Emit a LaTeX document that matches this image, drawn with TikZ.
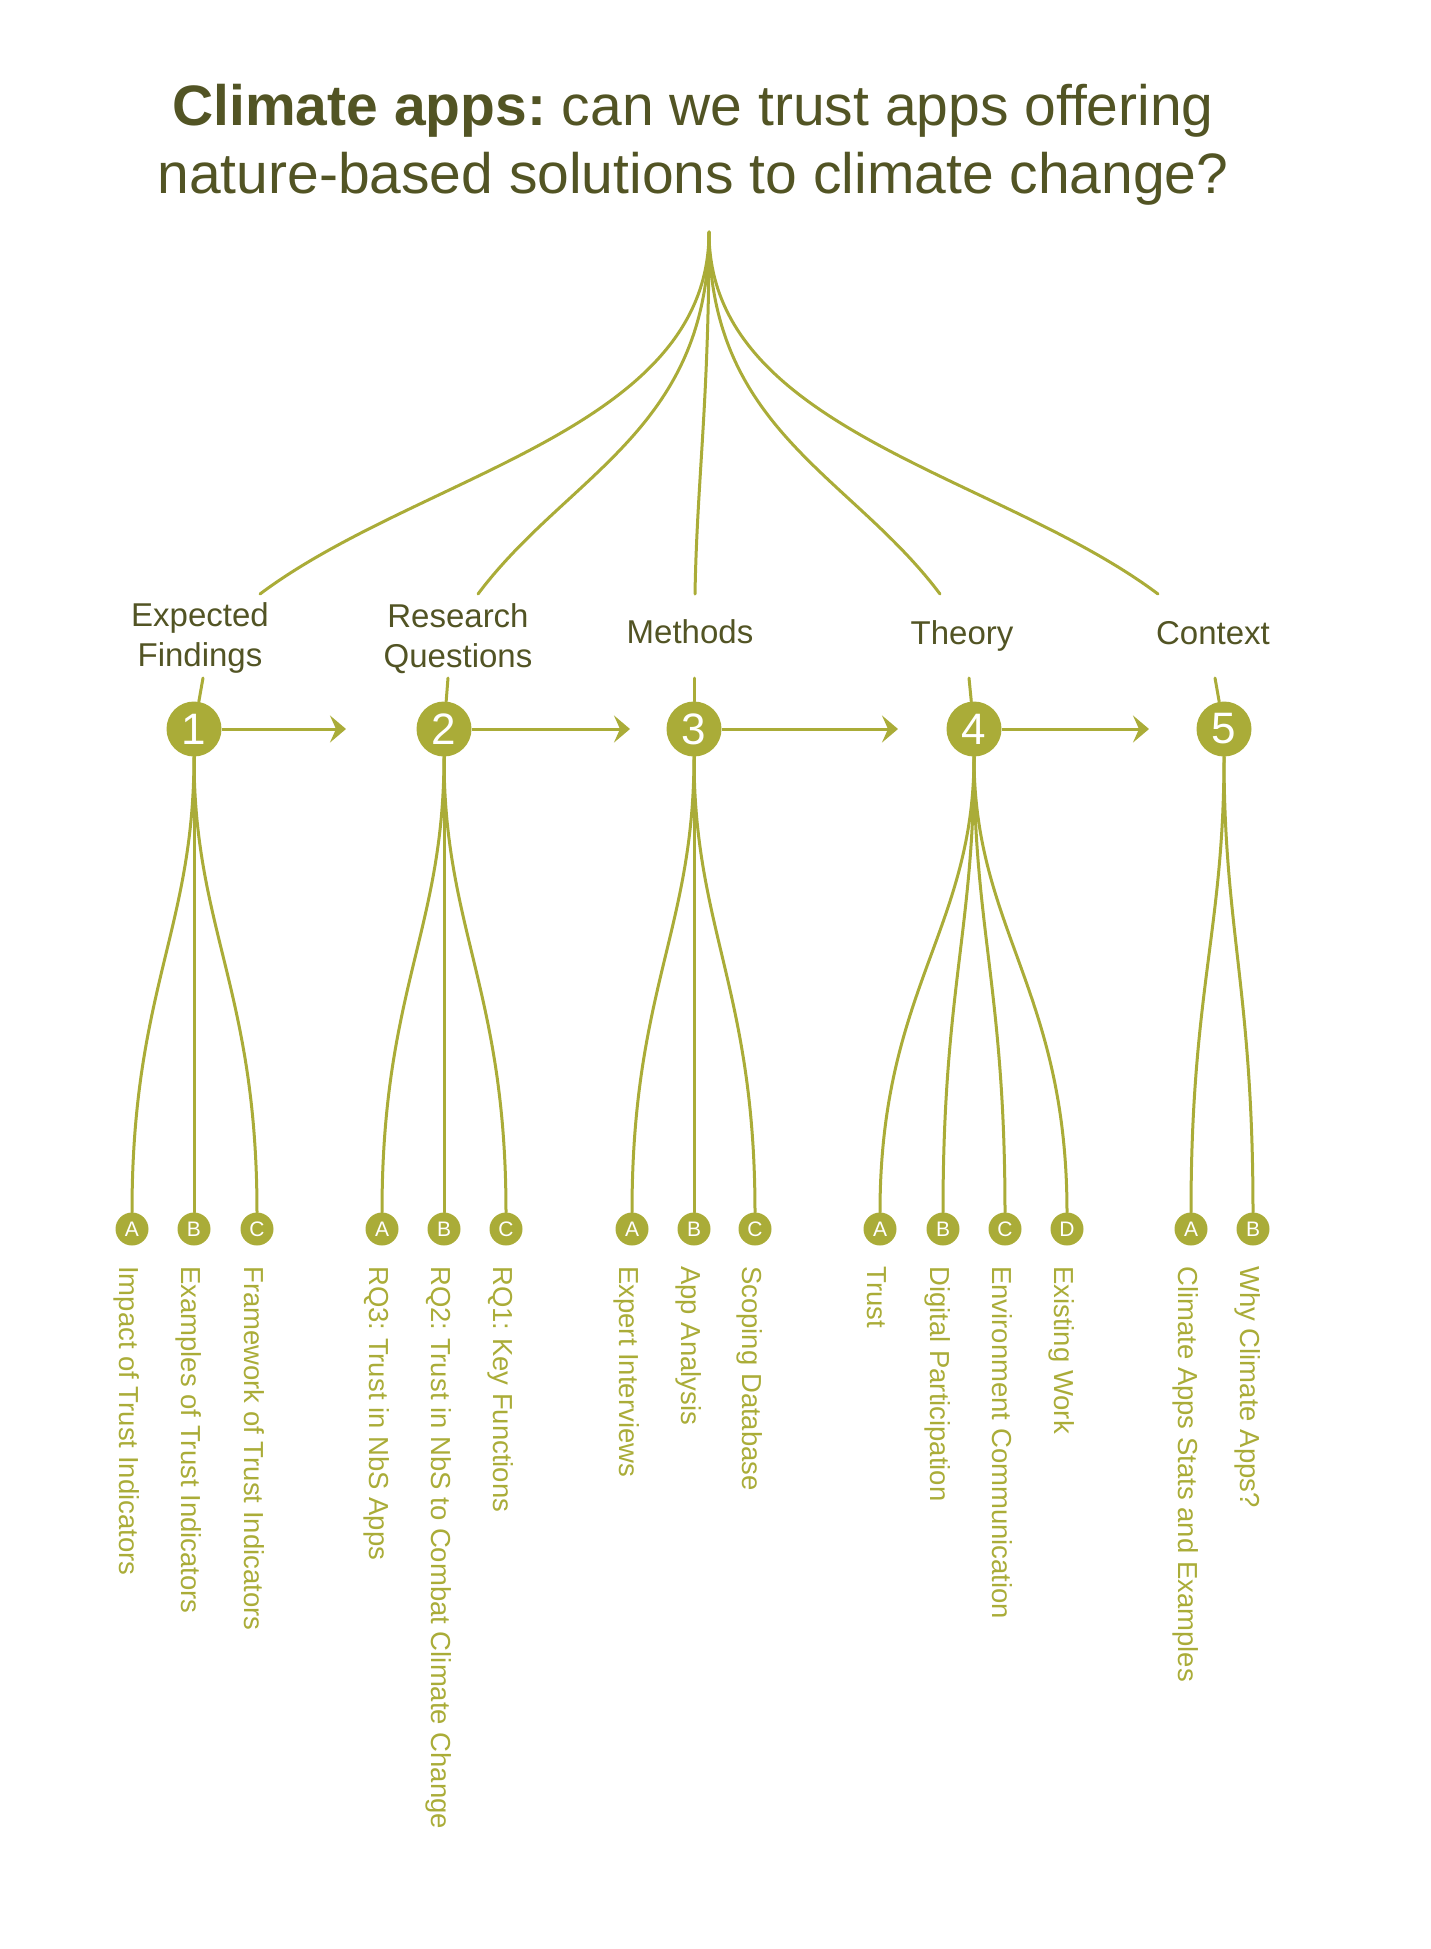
\documentclass[tikz,border=0pt]{standalone}
\usepackage{fontspec}
\setmainfont{Liberation Sans}
\usetikzlibrary{arrows.meta, positioning}
\frenchspacing
\definecolor{cOlive}{RGB}{170,172,56}
\definecolor{cDark}{RGB}{82,84,36}
\tikzset{
	headline/.style ={text=cDark, align=center, inner sep=0pt, font=\fontsize{57}{68}\selectfont},
	topic/.style    ={text=cDark, align=center, inner sep=0pt, font=\fontsize{33}{40}\selectfont},
	stage/.style    ={circle, fill=cOlive, text=white, minimum size=55pt, inner sep=0pt, font=\fontsize{44}{44}\selectfont},
	subdot/.style   ={circle, fill=cOlive, text=white, minimum size=33pt, inner sep=0pt, font=\fontsize{21}{21}\selectfont},
	leaf/.style     ={text=cOlive, rotate=-90, anchor=base west, inner sep=0pt, font=\fontsize{27.5}{27.5}\selectfont},
	branch/.style   ={draw=cOlive, line width=3pt, line cap=round},
	flowarrow/.style={draw=cOlive, line width=3pt, -{Stealth[length=16pt, width=27pt, inset=6pt]}},
}
\begin{document}
\begin{tikzpicture}[x=1pt, y=-1pt]
	\useasboundingbox (0,0) rectangle (1430,1949);
	% title
	\node[headline] (head) at (693,145) {\textbf{Climate apps:} can we trust apps offering\\nature-based solutions to climate change?};
	% fan from the title to the five topics
	\coordinate (root) at (709,232);
	\coordinate (f1) at (260,594);
	\coordinate (f2) at (478,594);
	\coordinate (f3) at (695,594);
	\coordinate (f4) at (940,594);
	\coordinate (f5) at (1158,594);
	\draw[branch] (root) .. controls +(0,198) and +(160,-120) .. (f1);
	\draw[branch] (root) .. controls +(0,198) and +(90,-120) .. (f2);
	\draw[branch] (root) .. controls +(0,170) and +(2,-114) .. (f3);
	\draw[branch] (root) .. controls +(0,198) and +(-90,-120) .. (f4);
	\draw[branch] (root) .. controls +(0,198) and +(-160,-120) .. (f5);
	% topics
	\node[topic] (t1) at (200,638) {Expected\\Findings};
	\node[topic] (t2) at (458,639) {Research\\Questions};
	\node[topic, anchor=base] (t3) at (690,643) {Methods};
	\node[topic, anchor=base] (t4) at (962,644) {Theory};
	\node[topic, anchor=base] (t5) at (1213,644) {Context};
	% numbered stages
	\foreach \n/\x in {1/194, 2/444, 3/694, 4/974, 5/1224}
		\node[stage] (s\n) at (\x,729) {\n};
	% stubs between topics and stages
	\foreach \n/\x in {1/203, 2/448, 3/694, 4/969, 5/1215} {
		\coordinate (u\n) at (\x,678);
		\draw[branch] (u\n) -- (s\n);
	}
	% arrows between stages
	\foreach \n/\x in {1/346, 2/630, 3/898, 4/1149} {
		\coordinate (a\n) at (\x,729);
		\draw[flowarrow] (s\n) -- (a\n);
	}
	% lettered sub-points with their labels
	\foreach \p/\l/\x/\txt in {
		1/A/132/Impact of Trust Indicators,
		1/B/194/Examples of Trust Indicators,
		1/C/257/Framework of Trust Indicators,
		2/A/382/RQ3: Trust in NbS Apps,
		2/B/444/RQ2: Trust in NbS to Combat Climate Change,
		2/C/506/RQ1: Key Functions,
		3/A/632/Expert Interviews,
		3/B/694/App Analysis,
		3/C/755/Scoping Database,
		4/A/880/Trust,
		4/B/943/Digital Participation,
		4/C/1005/Environment Communication,
		4/D/1067/Existing Work,
		5/A/1191/Climate Apps Stats and Examples,
		5/B/1253/Why Climate Apps?} {
		\node[subdot] (s\p\l) at (\x,1229) {\l};
		\node[leaf] (l\p\l) at (\x-13,1266) {\txt};
		\draw[branch] (s\p.south) .. controls +(0,173) and +(0,-222) .. (s\p\l.north);
	}
\end{tikzpicture}
\end{document}
